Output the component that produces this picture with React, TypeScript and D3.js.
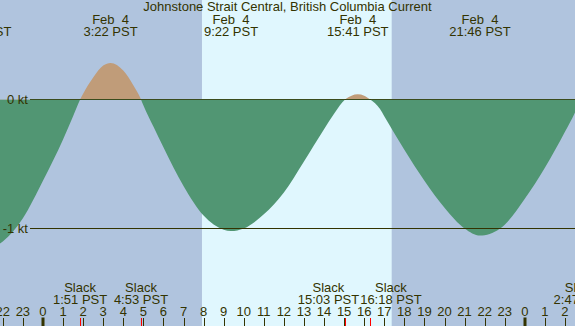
import React from 'react';
import * as d3 from 'd3';

const W = 575, H = 326;
const FONT = "'Liberation Sans', Arial, sans-serif";
const FS = 13;

// current speed (kt), hours from midnight Feb 4 PST
const curveHours = [-3, -2, -1, 0, 1, 1.5, 1.85, 2, 2.5, 3, 3.367, 4, 4.5, 4.883, 5, 5.5, 6, 7, 8, 9, 9.367, 10, 11, 12, 13, 14, 14.5, 15.05, 15.37, 15.683, 16, 16.3, 16.78, 17, 18, 19, 20, 21, 21.767, 22, 22.5, 23, 24, 25, 26, 26.5, 26.783, 27];
const curveKnots = [-1.17, -1.1, -0.92, -0.63, -0.31, -0.13, 0, 0.045, 0.17, 0.263, 0.283, 0.224, 0.11, 0, -0.045, -0.21, -0.37, -0.67, -0.9, -1.01, -1.02, -1.0, -0.89, -0.72, -0.48, -0.23, -0.11, 0, 0.03, 0.04, 0.03, 0, -0.072, -0.13, -0.39, -0.63, -0.84, -1.0, -1.055, -1.052, -1.025, -0.97, -0.77, -0.53, -0.25, -0.1, 0, 0.06];

// max flood / max ebb events
const extremeHours = [-3.1, 3.367, 9.367, 15.683, 21.767];
const extremeDates = ["Feb  3", "Feb  4", "Feb  4", "Feb  4", "Feb  4"];
const extremeTimes = ["20:54 PST", "3:22 PST", "9:22 PST", "15:41 PST", "21:46 PST"];

// slack water events
const slackHours = [1.85, 4.883, 15.05, 16.3, 26.783];
const slackTimes = ["1:51 PST", "4:53 PST", "15:03 PST", "16:18 PST", "2:47 PST"];

// sunrise / sunset
const daylight = [7.92, 17.37];

const hourLabels = ["22", "23", "0", "1", "2", "3", "4", "5", "6", "7", "8", "9", "10", "11", "12", "13", "14", "15", "16", "17", "18", "19", "20", "21", "22", "23", "0", "1", "2"];
const firstHour = -2;

const speedTicks = [0, -1];
const speedLabels = ["0 kt", "-1 kt"];

const title = "Johnstone Strait Central, British Columbia Current";

const colors = {
    night: "#b0c4de",
    day: "#e0f7fe",
    flood: "#c09c79",
    ebb: "#519673",
    ink: "#333300",
    slack: "#ff0000",
};

let ctx: CanvasRenderingContext2D | null = null;
const textWidth = (s: string) => {
    if (!ctx) ctx = document.createElement('canvas').getContext('2d');
    if (!ctx) return s.length * 6.8;
    ctx.font = `${FS}px ${FONT}`;
    return ctx.measureText(s).width;
};

// push overlapping labels apart, keeping each cluster centred on its marks
const placeLabels = (xs: number[], widths: number[], gap = 1) => {
    let groups = xs.map((x, i) => ({ idx: [i], center: x }));
    let merged = true;
    while (merged) {
        merged = false;
        const layout = groups.map(g => {
            const total = d3.sum(g.idx, i => widths[i]) + gap * (g.idx.length - 1);
            return { left: g.center - total / 2, right: g.center + total / 2 };
        });
        for (let k = 1; k < groups.length; k++) {
            if (layout[k].left < layout[k - 1].right + gap) {
                const idx = [...groups[k - 1].idx, ...groups[k].idx];
                const center = (d3.mean(idx, i => xs[i]) as number) + 2;
                groups.splice(k - 1, 2, { idx, center });
                merged = true;
                break;
            }
        }
    }
    const out: number[] = new Array(xs.length);
    groups.forEach(g => {
        const total = d3.sum(g.idx, i => widths[i]) + gap * (g.idx.length - 1);
        let left = g.center - total / 2;
        g.idx.forEach(i => {
            out[i] = left + widths[i] / 2;
            left += widths[i] + gap;
        });
    });
    return out;
};

const App = () => {
    const x = d3.scaleLinear().domain([-2.14, 26.5]).range([0, W]);
    const y = d3.scaleLinear().domain([-1, 0]).range([228.5, 99.5]);

    const points = curveHours.map((h, i) => [h, curveKnots[i]] as [number, number]);
    const area = d3.area<[number, number]>()
        .x(d => x(d[0]))
        .y0(y(0))
        .y1(d => y(d[1]))
        .curve(d3.curveMonotoneX)(points) || "";

    const slackW = slackTimes.map(t => Math.max(textWidth(t), textWidth("Slack")));
    const slackX = placeLabels(slackHours.map(h => x(h)), slackW);

    const textProps = { fontFamily: FONT, fontSize: FS, fill: colors.ink, style: { whiteSpace: 'pre' as const } };

    return (
        <svg width={W} height={H} style={{ position: 'absolute', left: 0, top: 0, display: 'block' }}>
            <defs>
                <clipPath id="above"><rect x={0} y={0} width={W} height={y(0)} /></clipPath>
                <clipPath id="below"><rect x={0} y={y(0)} width={W} height={H - y(0)} /></clipPath>
            </defs>
            {/* night / day background */}
            <rect x={0} y={0} width={W} height={H} fill={colors.night} />
            <rect x={x(daylight[0])} y={0} width={x(daylight[1]) - x(daylight[0])} height={H} fill={colors.day} />

            {/* flood part, then zero line, then ebb part over it */}
            <path d={area} fill={colors.flood} clipPath="url(#above)" />
            <line x1={30} x2={W} y1={y(0)} y2={y(0)} stroke={colors.ink} strokeWidth={1} />
            <path d={area} fill={colors.ebb} clipPath="url(#below)" />
            <line x1={30} x2={W} y1={y(-1)} y2={y(-1)} stroke={colors.ink} strokeWidth={1} />

            {speedTicks.map((v, i) => (
                <text key={v} x={28} y={y(v) + 4.5} textAnchor="end" {...textProps}>{speedLabels[i]}</text>
            ))}

            {/* title */}
            <text x={W / 2} y={11} textAnchor="middle" {...textProps}>{title}</text>

            {/* extremes */}
            {extremeHours.map((h, i) => (
                <g key={i}>
                    <text x={x(h)} y={24} textAnchor="middle" {...textProps}>{extremeDates[i]}</text>
                    <text x={x(h)} y={36} textAnchor="middle" {...textProps}>{extremeTimes[i]}</text>
                </g>
            ))}

            {/* slacks */}
            {slackHours.map((h, i) => (
                <g key={i}>
                    <text x={slackX[i]} y={292.3} textAnchor="middle" {...textProps}>Slack</text>
                    <text x={slackX[i]} y={304} textAnchor="middle" {...textProps}>{slackTimes[i]}</text>
                </g>
            ))}

            {/* hour axis */}
            {hourLabels.map((lab, i) => {
                const h = firstHour + i;
                const px = Math.round(x(h));
                const midnight = lab === "0";
                return (
                    <g key={i}>
                        <text x={x(h)} y={315.7} textAnchor="middle" {...textProps}>{lab}</text>
                        {midnight
                            ? <rect x={px - 1.5} y={317.5} width={3} height={H - 317.5} fill={colors.ink} />
                            : <line x1={px + 0.5} x2={px + 0.5} y1={318} y2={H} stroke={colors.ink} strokeWidth={1} />}
                    </g>
                );
            })}
            {slackHours.map((h, i) => (
                <line key={i} x1={Math.round(x(h)) + 0.5} x2={Math.round(x(h)) + 0.5} y1={318} y2={H} stroke={colors.slack} strokeWidth={1} />
            ))}
        </svg>
    );
};

export default App;
